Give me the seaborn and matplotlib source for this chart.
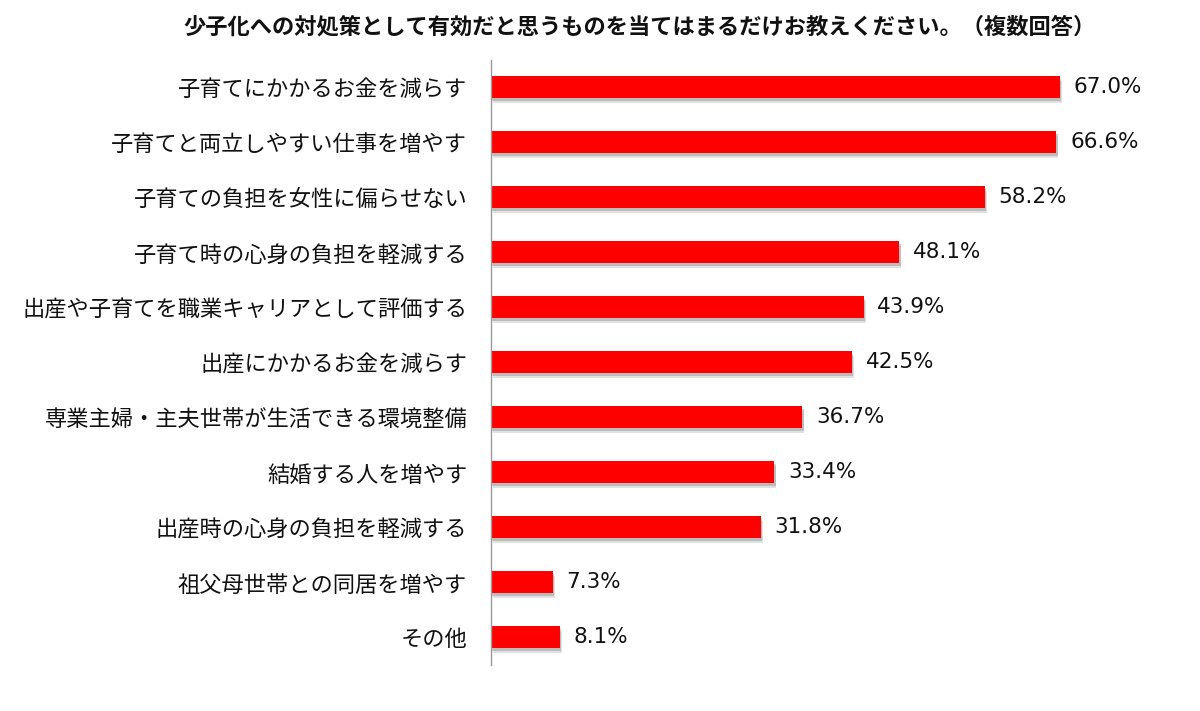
import matplotlib
matplotlib.use('Agg')
import matplotlib.pyplot as plt
import matplotlib.patheffects as pe
import seaborn as sns
import pandas as pd

categories = [
    '子育てにかかるお金を減らす',
    '子育てと両立しやすい仕事を増やす',
    '子育ての負担を女性に偏らせない',
    '子育て時の心身の負担を軽減する',
    '出産や子育てを職業キャリアとして評価する',
    '出産にかかるお金を減らす',
    '専業主婦・主夫世帯が生活できる環境整備',
    '結婚する人を増やす',
    '出産時の心身の負担を軽減する',
    '祖父母世帯との同居を増やす',
    'その他',
]
values = [67.0, 66.6, 58.2, 48.1, 43.9, 42.5, 36.7, 33.4, 31.8, 7.3, 8.1]
title = '少子化への対処策として有効だと思うものを当てはまるだけお教えください。（複数回答）'

df = pd.DataFrame({'item': categories, 'pct': values})

sns.set_style('white')
plt.rcParams['font.family'] = ['Noto Sans CJK JP', 'DejaVu Sans']

fig = plt.figure(figsize=(12, 7.11), dpi=100)
ax = fig.add_axes([0.409, 0.0647, 0.566, 0.851])

sns.barplot(data=df, x='pct', y='item', color='#ff0000', saturation=1,
            width=0.4, ax=ax)

# soft drop shadow under bars
for p in ax.patches:
    p.set_path_effects([
        pe.SimplePatchShadow(offset=(1.5, -3), shadow_rgbFace='#888888', alpha=0.25),
        pe.SimplePatchShadow(offset=(1, -1.8), shadow_rgbFace='#777777', alpha=0.35),
        pe.Normal()])
    p.set_edgecolor('none')

ax.bar_label(ax.containers[0], labels=[f'{v:.1f}%' for v in values],
             padding=10, fontsize=15.5, family=['DejaVu Sans'], color='#111111')

ax.set_xlim(0, 80)
ax.set_ylim(10.5, -0.5)
ax.set(xlabel='', ylabel='')
ax.set_xticks([])
ax.tick_params(axis='y', length=0, pad=17, labelsize=16)
for lab in ax.get_yticklabels():
    lab.set_color('#111111')

for s in ['top', 'right', 'bottom']:
    ax.spines[s].set_visible(False)
ax.spines['left'].set_color('#999999')
ax.spines['left'].set_linewidth(1)

fig.text(0.533, 0.962, title, ha='center', va='center', fontsize=16,
         fontweight='bold', color='#111111')

fig.savefig('out.png', dpi=100)
